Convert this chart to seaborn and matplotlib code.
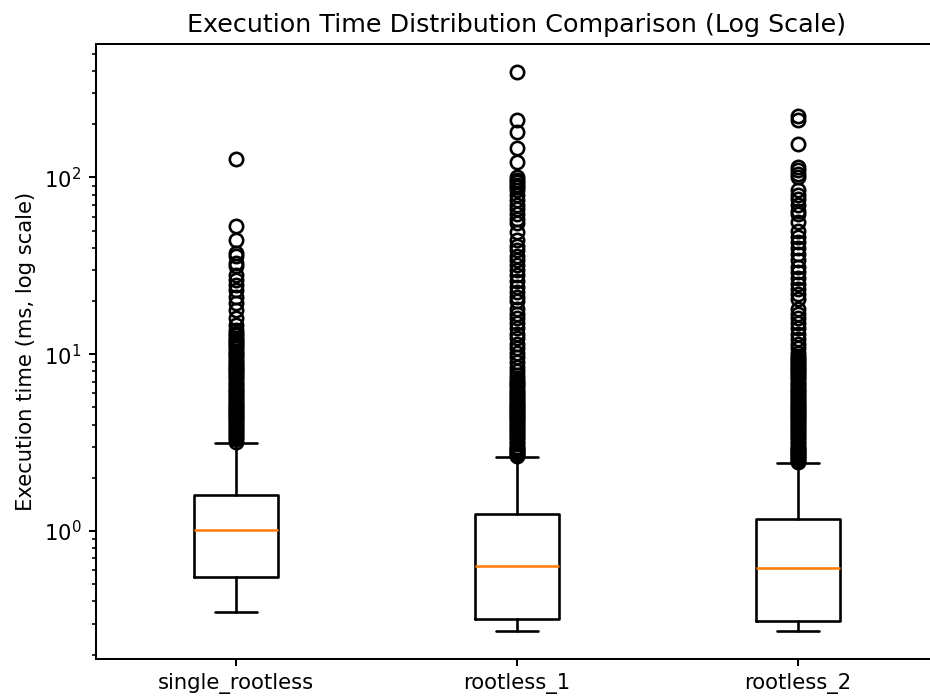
import matplotlib
matplotlib.use("Agg")
import matplotlib.pyplot as plt
import seaborn as sns

# summary stats (ms)
groups = ["single_rootless", "rootless_1", "rootless_2"]
q1 = [0.55, 0.317, 0.310]
median = [1.01, 0.634, 0.621]
q3 = [1.59, 1.243, 1.165]
whislo = [0.348, 0.272, 0.272]
whishi = [3.13, 2.61, 2.44]

# outliers above the upper whisker
fliers_single = [127, 52.9, 44.5, 37.5, 35.8, 33, 31.4, 28, 26.4, 24.8, 23, 21,
                 19.6, 17.8, 16, 14.7, 13.7,
                 13.2, 12.8, 12.4, 12.0, 11.7, 11.4, 11.1, 10.8, 10.5, 10.2, 9.9,
                 9.6, 9.3, 9.0, 8.8, 8.6, 8.4, 8.2, 8.0, 7.8, 7.6, 7.4, 7.2, 7.0,
                 6.8, 6.6, 6.4, 6.25, 6.1, 5.95, 5.8, 5.65, 5.5, 5.35, 5.2, 5.1,
                 5.0, 4.9, 4.8, 4.7, 4.6, 4.5, 4.4, 4.3, 4.2, 4.1, 4.0, 3.9, 3.8,
                 3.7, 3.6, 3.5, 3.4, 3.3, 3.2]
fliers_r1 = [395, 212, 181, 147, 123, 100, 97, 94, 91, 88, 85, 80, 75, 70, 66,
             62, 58, 55, 49, 44, 41, 39, 36, 34, 32, 30, 28, 26, 24, 22.5, 21,
             20, 18, 17, 16, 15, 14, 13, 12.3, 11.5, 10.8, 10.2, 9.6, 9.0, 8.5,
             8.0, 7.6, 7.3,
             7.1, 6.9, 6.7, 6.5, 6.3, 6.1, 5.95, 5.8, 5.65, 5.5, 5.35, 5.2, 5.1,
             5.0, 4.9, 4.8, 4.7, 4.6, 4.5, 4.4, 4.3, 4.2, 4.1, 4.0, 3.9, 3.8,
             3.7, 3.6, 3.5, 3.4, 3.3, 3.2, 3.1, 3.0, 2.95, 2.9, 2.85, 2.8, 2.75,
             2.7, 2.65]
fliers_r2 = [222, 210, 154, 115, 110, 105, 100, 85, 80, 76, 70, 65, 62, 56, 50,
             46, 43, 40, 37, 34, 31, 29, 27, 25, 23.5, 22, 20.5, 18, 17, 16,
             15, 14, 13, 12.2, 11.5, 10.8, 10.2, 9.8,
             9.5, 9.3, 9.0, 8.8, 8.6, 8.4, 8.2, 8.0, 7.8, 7.6, 7.4, 7.2, 7.0,
             6.8, 6.6, 6.4, 6.25, 6.1, 5.95, 5.8, 5.65, 5.5, 5.35, 5.2, 5.1,
             5.0, 4.9, 4.8, 4.7, 4.6, 4.5, 4.4, 4.3, 4.2, 4.1, 4.0, 3.9, 3.8,
             3.7, 3.6, 3.5, 3.4, 3.3, 3.2, 3.1, 3.0, 2.95, 2.9, 2.85, 2.8, 2.75,
             2.7, 2.65, 2.6, 2.55, 2.5, 2.47]
fliers = [fliers_single, fliers_r1, fliers_r2]

sns.set_style("ticks", {"axes.edgecolor": "black", "xtick.color": "black",
                        "ytick.color": "black", "text.color": "black",
                        "axes.labelcolor": "black"})
plt.rcParams["font.family"] = ["DejaVu Sans"]
plt.rcParams["font.size"] = 10.5
plt.rcParams["axes.linewidth"] = 1.0
plt.rcParams["xtick.major.width"] = 1.0
plt.rcParams["ytick.major.width"] = 1.0
plt.rcParams["ytick.minor.width"] = 0.8

dpi = 145.3
fig = plt.figure(figsize=(930 / dpi, 698 / dpi), dpi=dpi)
ax = fig.add_axes([95.5 / 930, 1 - 659 / 698, 843 / 930, 615 / 698])

stats = []
for i, name in enumerate(groups):
    stats.append({"label": name, "q1": q1[i], "med": median[i], "q3": q3[i],
                  "whislo": whislo[i], "whishi": whishi[i], "fliers": fliers[i]})

lw = 1.3
ax.bxp(stats,
       boxprops=dict(color="black", linewidth=lw),
       whiskerprops=dict(color="black", linewidth=lw),
       capprops=dict(color="black", linewidth=lw),
       medianprops=dict(color="#ff7f0e", linewidth=lw),
       flierprops=dict(marker="o", markerfacecolor="none",
                       markeredgecolor="black", markersize=6.6,
                       markeredgewidth=1.3))
ax.set_yscale("log")
ax.set_xlim(0.5, 3.5)
ax.set_title("Execution Time Distribution Comparison (Log Scale)", fontsize=12.6)
ax.set_ylabel("Execution time (ms, log scale)")

fig.savefig("out.png", dpi=dpi)
